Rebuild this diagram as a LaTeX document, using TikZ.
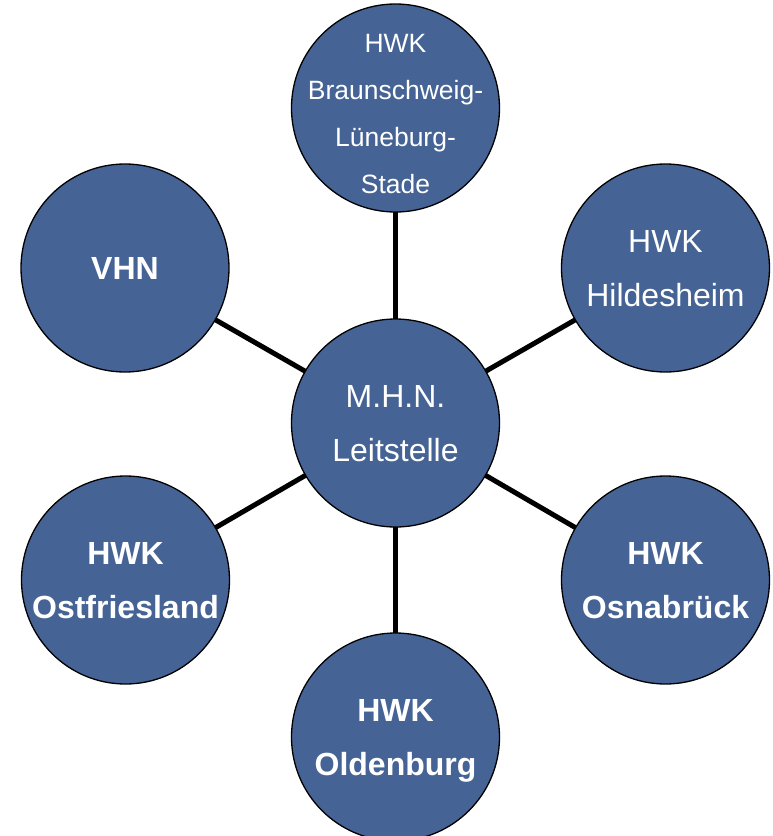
\documentclass[tikz,border=0pt]{standalone}
\usepackage{fontspec}
\setmainfont{Liberation Sans}
\definecolor{hwkblue}{RGB}{69,99,148}
\begin{document}
\begin{tikzpicture}[x=1pt,y=1pt,
  hub/.style={circle,draw=black,line width=1.3pt,fill=hwkblue,text=white,
    minimum size=208pt,inner sep=0pt,outer sep=0pt,align=center,
    font=\fontsize{32}{54}\selectfont},
  hubb/.style={hub,font=\fontsize{32}{54}\selectfont\bfseries},
  hubtext/.style={text=white,inner sep=0pt,align=center,
    font=\fontsize{26.5}{47}\selectfont},
  link/.style={line width=5pt,draw=black}]
\useasboundingbox (0,0) rectangle (773,-836);
\begin{scope}
\clip (0,0) rectangle (773,-836);
\node[hub,text depth=-3pt] (c) at (395.5,-423) {M.H.N.\\Leitstelle};
\node[hub] (top) at (395.5,-108) {};
\node[hubtext] (toptext) at (395.5,-114) {HWK\\Braunschweig-\\Lüneburg-\\Stade};
\node[hubb,text depth=-3pt] (vhn) at (125,-268) {VHN};
\node[hub,text depth=-3pt] (hil) at (665.5,-268) {HWK\\Hildesheim};
\node[hubb,text depth=-3pt] (osn) at (665.5,-580) {HWK\\Osnabrück};
\node[hubb,text depth=-3pt] (ost) at (125.5,-580) {HWK\\Ostfriesland};
\node[hubb,text depth=-3pt] (old) at (395.5,-737) {HWK\\Oldenburg};
\draw[link] (c) -- (top);
\draw[link] (c) -- (vhn);
\draw[link] (c) -- (hil);
\draw[link] (c) -- (osn);
\draw[link] (c) -- (ost);
\draw[link] (c) -- (old);
\end{scope}
\end{tikzpicture}
\end{document}
